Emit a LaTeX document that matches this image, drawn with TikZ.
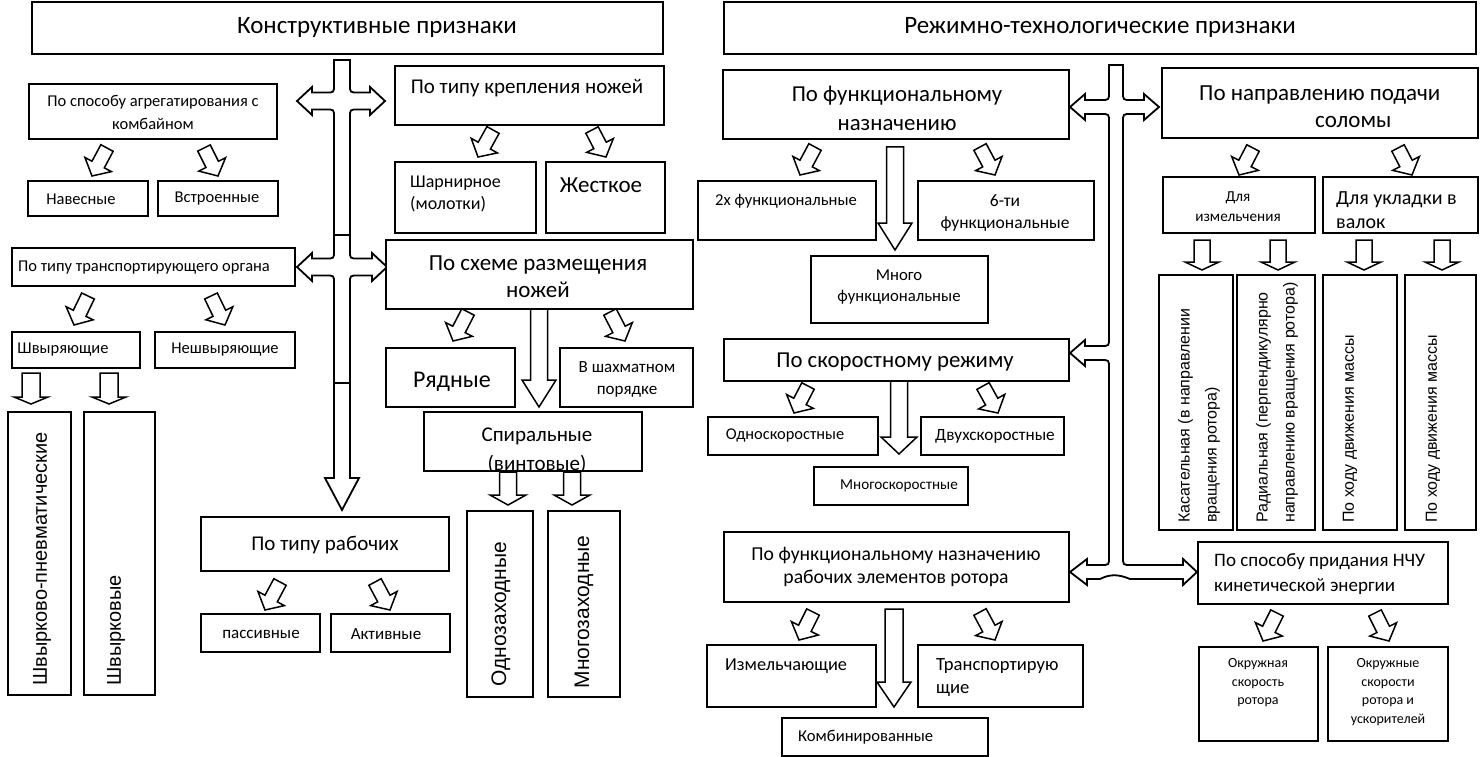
\documentclass[tikz,border=0pt]{standalone}
\usepackage{fontspec}
\setmainfont{Carlito}
\newfontfamily\arl{Liberation Sans}
\usetikzlibrary{calc,fit}
\newcommand\fz[2]{\fontsize{#1}{#2}\selectfont}
\newcommand\barr[5]{\draw[arr] let \p1=($(#2)-(#1)$), \n1={atan2(\y1,\x1)}, \n2={veclen(\x1,\y1)} in [shift={(#1)},rotate=\n1] (0pt,#3pt) -- ({\n2*1pt-#5pt},#3pt) -- ({\n2*1pt-#5pt},#4pt) -- ({\n2*1pt},0pt) -- ({\n2*1pt-#5pt},-#4pt) -- ({\n2*1pt-#5pt},-#3pt) -- (0pt,-#3pt) -- cycle;}
\newcommand\sarr[2]{\barr{#1}{#2}{7}{15}{13}}
\tikzset{
  box/.style={draw, line width=2.2pt, inner sep=0pt, outer sep=0pt, fill=white},
  tbox/.style={draw, line width=2.6pt, inner sep=0pt},
  arr/.style={line width=1.5pt, fill=white, draw, line join=miter},
  trunk/.style={draw, line width=1.8pt, fill=white, line join=miter},
  lbl/.style={inner sep=0pt, align=center},
  lbll/.style={inner sep=0pt, align=left},
  vt/.style={inner sep=0pt, align=left, rotate=90, font=\arl\fz{16}{27}}
}
\begin{document}
\begin{tikzpicture}[x=1pt,y=-1pt]
\useasboundingbox (0,0) rectangle (1480,757);
% ---------- trunks ----------
\draw[trunk] (350,60) -- (334,60) -- (334,85) .. controls (334,92.5) .. (326,92.5) -- (312,92.5) -- (312,87) -- (297,101) -- (312,115) -- (312,109.5) -- (326,109.5) .. controls (334,109.5) .. (334,117)
 -- (334,251) .. controls (334,258.5) .. (326,258.5) -- (312,258.5) -- (312,253) -- (297,267) -- (312,281) -- (312,275.5) -- (326,275.5) .. controls (334,275.5) .. (334,283)
 -- (334,478) -- (325,478) -- (342,510) -- (359,478) -- (350,478)
 -- (350,283) .. controls (350,275.5) .. (358,275.5) -- (372,275.5) -- (372,281) -- (387,267) -- (372,253) -- (372,258.5) -- (358,258.5) .. controls (350,258.5) .. (350,251)
 -- (350,117) .. controls (350,109.5) .. (358,109.5) -- (370,109.5) -- (370,115) -- (385,101) -- (370,87) -- (370,92.5) -- (358,92.5) .. controls (350,92.5) .. (350,85) -- cycle;
\coordinate (c1a) at (334,235); \coordinate (c1b) at (350,235);
\coordinate (c2a) at (334,383); \coordinate (c2b) at (350,383);
\draw[line width=1.8pt] (c1a) -- (c1b) (c2a) -- (c2b);

\draw[trunk] (1123,65) -- (1109,65) -- (1109,92) .. controls (1109,100) .. (1101,100) -- (1085,100) -- (1085,94) -- (1070,107) -- (1085,120) -- (1085,114) -- (1101,114) .. controls (1109,114) .. (1109,122)
 -- (1109,338) .. controls (1109,346) .. (1101,346) -- (1085,346) -- (1085,340) -- (1070,353) -- (1085,366) -- (1085,360) -- (1101,360) .. controls (1109,360) .. (1109,368)
 -- (1109,557) .. controls (1109,565) .. (1101,565) -- (1087,565) -- (1087,559) -- (1070,572) -- (1087,585) -- (1087,579)
 -- (1100,579) .. controls (1110,574) and (1118,574) .. (1130,579) -- (1183,579) -- (1183,585) -- (1197,572) -- (1183,559) -- (1183,565) -- (1131,565) .. controls (1123,565) .. (1123,557)
 -- (1123,122) .. controls (1123,114) .. (1131,114) -- (1144,114) -- (1144,120) -- (1159,107) -- (1144,94) -- (1144,100) -- (1131,100) .. controls (1123,100) .. (1123,92) -- cycle;

% ---------- titles ----------
\node[tbox, fit={(32,2) (663,54)}] (T1) {};
\node[lbl, font=\fz{25}{28}] (t1) at (377,27) {Конструктивные признаки};
\node[tbox, fit={(724,2) (1476,54)}] (T2) {};
\node[lbl, font=\fz{25}{28}] (t2) at (1100,27) {Режимно-технологические признаки};

% ---------- left part ----------
\node[box, fit={(29,84) (277,139)}] (agr) {};
\node[lbl, font=\fz{16.5}{23}] (agrt) at (153,112) {По способу агрегатирования с\\комбайном};
\node[box, fit={(28,181) (148,216)}] (nav) {};
\node[lbl, font=\fz{16.5}{18}] (navt) at (81,199) {Навесные};
\node[box, fit={(158,181) (278,216)}] (vst) {};
\node[lbl, font=\fz{16.5}{18}] (vstt) at (217,199) {Встроенные};

\node[box, fit={(395,66) (664,125)}] (krep) {};
\node[lbl, font=\fz{21}{24}] (krept) at (527,88) {По типу крепления ножей};
\node[box, fit={(395,162) (536,233)}] (shar) {};
\node[lbll, font=\fz{18}{22}, anchor=west] (shart) at (410,194) {Шарнирное\\(молотки)};
\node[box, fit={(546,162) (665,233)}] (zhes) {};
\node[lbl, font=\fz{23}{26}] (zhest) at (601,185) {Жесткое};

\node[box, fit={(386,240) (693,309)}] (shem) {};
\node[lbl, font=\fz{23}{27}] (shemt) at (538,277) {По схеме размещения\\ножей};
\node[box, fit={(386,348) (515,407)}] (ryad) {};
\node[lbl, font=\fz{24}{27}] (ryadt) at (452,382) {Рядные};
\node[box, fit={(560,348) (693,407)}] (shah) {};
\node[lbl, font=\fz{17}{22}] (shaht) at (627,379) {В шахматном\\порядке};
\node[box, draw=none, fit={(424,412) (642,471)}] (spir) {};
\begin{scope}
\clip (425,413) rectangle (641,470);
\node[lbl, font=\fz{21}{29}] (spirt) at (537,451) {Спиральные\\(винтовые)};
\end{scope}
\draw[line width=2.2pt] (spir.south west) rectangle (spir.north east);
\node[box, fit={(467,511) (533,697)}] (odno) {};
\node[vt, font=\arl\fz{21}{25}] (odnot) at (501,614) {Однозаходные};
\node[box, fit={(548,511) (620,697)}] (mnz) {};
\node[vt, font=\arl\fz{21}{25}] (mnzt) at (584,612) {Многозаходные};

\node[box, fit={(201,517) (449,571)}] (rab) {};
\node[lbl, font=\fz{21}{24}] (rabt) at (325,545) {По типу рабочих};
\node[box, fit={(201,614) (320,652)}] (pas) {};
\node[lbl, font=\fz{17}{20}] (past) at (261,634) {пассивные};
\node[box, fit={(331,614) (450,652)}] (akt) {};
\node[lbl, font=\fz{17}{20}] (aktt) at (386,634) {Активные};

\node[box, fit={(12,248) (295,286)}] (trn) {};
\node[lbl, font=\fz{16.5}{18}] (trnt) at (144,268) {По типу транспортирующего органа};
\node[box, fit={(12,332) (140,368)}] (shv) {};
\node[lbl, font=\fz{16.5}{18}] (shvt) at (63,350) {Швыряющие};
\node[box, fit={(155,332) (295,368)}] (nsh) {};
\node[lbl, font=\fz{16.5}{18}] (nsht) at (225,350) {Нешвыряющие};
\node[box, fit={(8,412) (71,695)}] (shp) {};
\node[vt, font=\arl\fz{20}{24}, anchor=west] (shpt) at (42,686) {Швырково-пневматические};
\node[box, fit={(84,412) (155,695)}] (shk) {};
\node[vt, font=\arl\fz{20}{24}, anchor=west] (shkt) at (116,686) {Швырковые};

% ---------- right part ----------
\node[box, fit={(723,70) (1069,139)}] (fun) {};
\node[lbl, font=\fz{22.8}{29}] (funt) at (897,108) {По функциональному\\назначению};
\node[box, fit={(698,181) (876,240)}] (f2) {};
\node[lbl, font=\fz{16.6}{18}] (f2t) at (786,201) {2х функциональные};
\node[box, fit={(918,181) (1094,240)}] (f6) {};
\node[lbl, font=\fz{17.5}{22}] (f6t) at (1005,213) {6-ти\\функциональные};
\node[box, fit={(811,256) (988,323)}] (fm) {};
\node[lbl, font=\fz{16.7}{21}] (fmt) at (899,287) {Много\\функциональные};

\node[box, fit={(724,339) (1069,381)}] (sk) {};
\node[lbl, font=\fz{22.8}{26}] (skt) at (895,362) {По скоростному режиму};
\node[box, fit={(708,417) (878,455)}] (sk1) {};
\node[lbl, font=\fz{16.4}{20}] (sk1t) at (785,436) {Односкоростные};
\node[box, fit={(921,417) (1064,455)}] (sk2) {};
\node[lbl, font=\fz{17.2}{20}] (sk2t) at (995,436) {Двухскоростные};
\node[box, fit={(814,467) (968,505)}] (skm) {};
\node[lbl, font=\fz{15.2}{20}] (skmt) at (899,486) {Многоскоростные};

\node[box, fit={(724,532) (1069,602)}] (re) {};
\node[lbl, font=\fz{19.7}{23}] (ret) at (896,567) {По функциональному назначению\\рабочих элементов ротора};
\node[box, fit={(707,645) (876,707)}] (izm) {};
\node[lbll, font=\fz{18.3}{22}, anchor=west] (izmt) at (725,666) {Измельчающие};
\node[box, fit={(918,645) (1083,707)}] (tra) {};
\node[lbll, font=\fz{18.6}{23}, anchor=west] (trat) at (936,678) {Транспортирую\\щие};
\node[box, fit={(782,718) (988,756)}] (kom) {};
\node[lbll, font=\fz{16.6}{20}, anchor=west] (komt) at (798,737) {Комбинированные};

\node[box, fit={(1162,68) (1478,138)}] (nap) {};
\node[lbll, font=\fz{23}{27}, anchor=west] (napt) at (1199,107) {По направлению подачи\\\hspace*{116pt}соломы};
\node[box, fit={(1163,177) (1315,233)}] (diz) {};
\node[lbl, font=\fz{15.2}{20}] (dizt) at (1238,207) {Для\\измельчения};
\node[box, fit={(1323,177) (1478,233)}] (duk) {};
\node[lbll, font=\fz{20}{24}, anchor=west] (dukt) at (1336,210) {Для укладки в\\валок};
\node[box, fit={(1159,275) (1233,530)}] (v1) {};
\node[vt, anchor=west] (v1t) at (1199,523) {Касательная (в направлении\\вращения ротора)};
\node[box, fit={(1237,275) (1315,530)}] (v2) {};
\node[vt, anchor=west] (v2t) at (1277,523) {Радиальная (перпендикулярно\\направлению вращения ротора)};
\node[box, fit={(1323,275) (1397,530)}] (v3) {};
\node[vt, anchor=west] (v3t) at (1350,523) {По ходу движения массы};
\node[box, fit={(1405,275) (1476,530)}] (v4) {};
\node[vt, anchor=west] (v4t) at (1433,523) {По ходу движения массы};

\node[box, fit={(1198,542) (1448,604)}] (nch) {};
\node[lbll, font=\fz{19}{25}, anchor=west] (ncht) at (1214,574) {По способу придания НЧУ\\кинетической энергии};
\node[box, fit={(1199,647) (1318,741)}] (ok1) {};
\node[lbl, font=\fz{14}{18.5}] (ok1t) at (1258,683) {Окружная\\скорость\\ротора};
\node[box, fit={(1328,647) (1448,741)}] (ok2) {};
\node[lbl, font=\fz{14}{18.5}] (ok2t) at (1388,692) {Окружные\\скорости\\ротора и\\ускорителей};

% ---------- slanted arrows ----------
\coordinate (a1s) at (107,148); \coordinate (a1e) at (92,176);
\coordinate (a2s) at (204,148); \coordinate (a2e) at (218,176);
\coordinate (a3s) at (88,296);  \coordinate (a3e) at (74,325);
\coordinate (a4s) at (211,296); \coordinate (a4e) at (225,325);
\coordinate (a5s) at (493,130); \coordinate (a5e) at (478,157);
\coordinate (a6s) at (592,130); \coordinate (a6e) at (606,157);
\coordinate (a7s) at (468,312); \coordinate (a7e) at (453,341);
\coordinate (a8s) at (610,312); \coordinate (a8e) at (625,341);
\coordinate (a9s) at (280,582); \coordinate (a9e) at (265,610);
\coordinate (a10s) at (375,582); \coordinate (a10e) at (390,610);
\coordinate (b1s) at (815,147); \coordinate (b1e) at (800,175);
\coordinate (b2s) at (980,147); \coordinate (b2e) at (995,175);
\coordinate (b3s) at (808,386); \coordinate (b3e) at (794,413);
\coordinate (b4s) at (983,386); \coordinate (b4e) at (998,413);
\coordinate (b5s) at (813,612); \coordinate (b5e) at (799,640);
\coordinate (b6s) at (980,612); \coordinate (b6e) at (995,640);
\coordinate (b7s) at (1253,148); \coordinate (b7e) at (1239,175);
\coordinate (b8s) at (1398,148); \coordinate (b8e) at (1412,175);
\coordinate (b9s) at (1277,613); \coordinate (b9e) at (1263,641);
\coordinate (b10s) at (1375,613); \coordinate (b10e) at (1389,641);
\foreach \q in {a1,a2,a3,a4,a5,a6,a7,a8,a9,a10,b1,b2,b3,b4,b5,b6,b7,b8,b9,b10}{\sarr{\q s}{\q e}}

% ---------- vertical arrows ----------
\coordinate (v1s) at (539,309); \coordinate (v1e) at (539,407);
\barr{v1s}{v1e}{8.5}{17}{27}
\coordinate (v2s) at (895,147); \coordinate (v2e) at (895,250);
\barr{v2s}{v2e}{8.5}{17}{27}
\coordinate (v3s) at (899,381); \coordinate (v3e) at (899,454);
\barr{v3s}{v3e}{8.5}{18}{17}
\coordinate (v4s) at (894,609); \coordinate (v4e) at (894,707);
\barr{v4s}{v4e}{9}{17}{25}
\coordinate (v5s) at (31,373); \coordinate (v5e) at (31,404);
\barr{v5s}{v5e}{9}{17}{7}
\coordinate (v6s) at (109,373); \coordinate (v6e) at (109,404);
\barr{v6s}{v6e}{9}{17}{7}
\coordinate (v7s) at (508,472); \coordinate (v7e) at (508,505);
\barr{v7s}{v7e}{8.5}{18}{10}
\coordinate (v8s) at (572,472); \coordinate (v8e) at (572,505);
\barr{v8s}{v8e}{8.5}{18}{10}
\coordinate (w1s) at (1202,240); \coordinate (w1e) at (1202,270);
\coordinate (w2s) at (1278,240); \coordinate (w2e) at (1278,270);
\coordinate (w3s) at (1364,240); \coordinate (w3e) at (1364,270);
\coordinate (w4s) at (1442,240); \coordinate (w4e) at (1442,270);
\foreach \q in {w1,w2,w3,w4}{\barr{\q s}{\q e}{8}{17}{8}}
\end{tikzpicture}
\end{document}
